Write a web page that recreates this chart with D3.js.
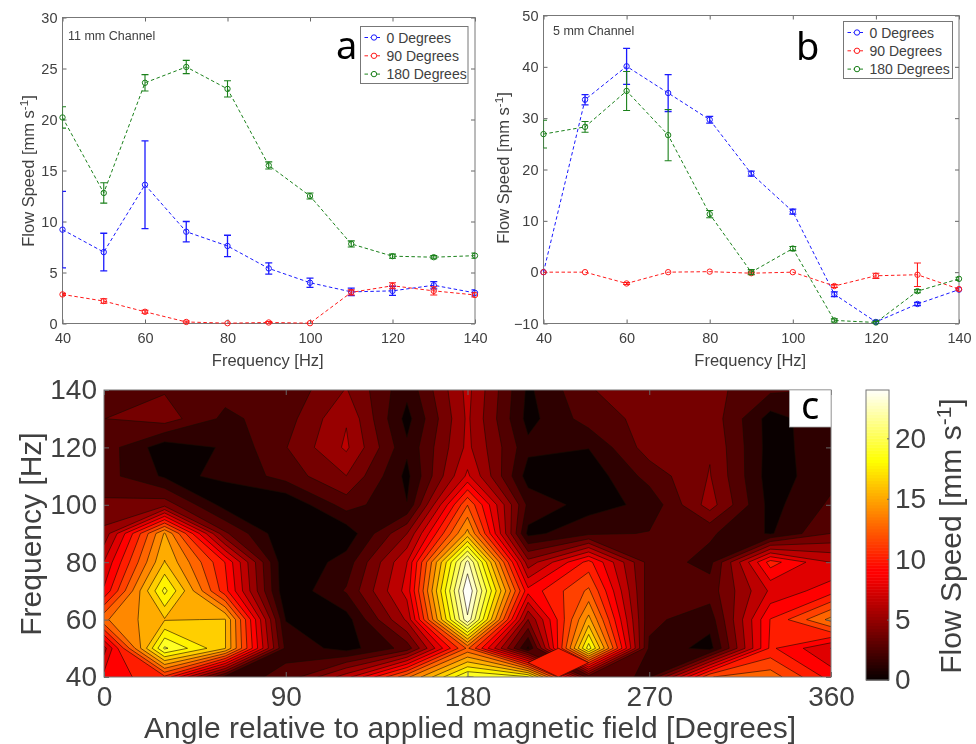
<!DOCTYPE html>
<html>
<head>
<meta charset="utf-8">
<script src="https://d3js.org/d3.v7.min.js"></script>
<style>
  body { margin: 0; background: #fff; }
  svg { display: block; font-family: "Liberation Sans", sans-serif; filter: blur(0.4px); }
  text { fill: #404040; }
  .axis path { display: none; }
  .axis line { stroke: #666; }
</style>
</head>
<body>
<svg id="chart" width="976" height="744"></svg>
<script>
const freqs = [40, 50, 60, 70, 80, 90, 100, 110, 120, 130, 140];
const seriesNames = ["0 Degrees", "90 Degrees", "180 Degrees"];
const seriesColors = ["#1a1aff", "#ff1a1a", "#1a801a"];

// panel a, 11 mm channel
const a0 = [9.2, 7, 13.6, 9, 7.6, 5.4, 4, 3.1, 3.2, 3.75, 3];
const a0Err = [3.75, 1.85, 4.3, 1, 1.05, 0.55, 0.45, 0.37, 0.45, 0.35, 0.3];
const a90 = [2.85, 2.2, 1.15, 0.15, 0.03, 0.1, 0.03, 3.05, 3.7, 3.2, 2.8];
const a90Err = [0.1, 0.22, 0.15, 0.1, 0, 0.1, 0, 0.25, 0.3, 0.4, 0.2];
const a180 = [20.2, 12.8, 23.6, 25.15, 23, 15.5, 12.5, 7.8, 6.6, 6.5, 6.65];
const a180Err = [1.05, 1, 0.8, 0.65, 0.8, 0.35, 0.3, 0.3, 0.2, 0.15, 0.25];

// panel b, 5 mm channel
const b0 = [0, 33.6, 40.1, 34.9, 29.7, 19.2, 11.8, -4.3, -9.7, -6.2, -3.4];
const b0Err = [0, 1, 3.5, 3.6, 0.65, 0.5, 0.5, 0.45, 0.3, 0.3, 0.2];
const b90 = [0, 0, -2.2, 0, 0.1, -0.2, 0, -2.7, -0.7, -0.5, -3.3];
const b90Err = [0, 0, 0.2, 0, 0, 0.2, 0, 0.3, 0.5, 2.3, 0.2];
const b180 = [26.9, 28.3, 35.3, 26.7, 11.3, 0, 4.6, -9.4, -9.8, -3.7, -1.3];
const b180Err = [2.7, 1.05, 3.8, 5, 0.7, 0.5, 0.4, 0.3, 0.2, 0.3, 0.3];

// panel c, one row per frequency (40 first), one column per angle
const angles = [0, 30, 60, 90, 120, 150, 180, 210, 240, 270, 300, 330, 360];
const speedRows = [
  [9.2, 11, 2, 2.8, 7, 13.5, 20.2, 19, 3, 2.35, 12.5, 13.3, 9.5],
  [7, 20.3, 16.4, 2.2, 0.7, 3, 12.8, 1, 19.5, 2.3, 0.7, 10.3, 7.5],
  [13.6, 16.2, 16.4, 1.2, 0.7, 6.5, 23.6, 5, 15.5, 2.8, 1.8, 10.1, 14.2],
  [9, 19.2, 10.5, 0.15, 2.65, 8, 25.1, 9.2, 12.8, 3, 3.1, 7.75, 9.5],
  [7.6, 16.4, 10, 0.03, 1.8, 7.5, 23, 5.5, 10.5, 3.2, 2.1, 10.6, 7.5],
  [5.4, 15.2, 4, 0.1, 0.4, 5, 15.5, 0.86, 2.2, 2.6, 2.7, 1.1, 3.8],
  [4, 4.5, 0.7, 0.03, 3.1, 1.3, 12.5, 2.2, 0.7, 1.6, 5.6, 0.8, 2.75],
  [3.05, 1.05, 1.4, 3.05, 5, 0.9, 7.8, 0.6, 0.4, 3, 5.1, 0.6, 2.1],
  [3.2, 0.5, 1.4, 3.7, 6.5, 1.5, 6.6, 1.6, 1.3, 4.4, 4.9, 0.7, 2.1],
  [3.75, 4.4, 2.2, 3.2, 6.17, 0.8, 6.5, 0.8, 3.1, 4.2, 4.6, 0.7, 2.2],
  [3, 3.65, 3, 2.8, 5.1, 1.6, 6.65, 1, 3.65, 4.7, 4.2, 2.75, 2.5]
];
// 20 contour steps up to the peak
const levelStep = 1.255;
const levels = d3.range(1, 21).map(i => i * levelStep);

const svg = d3.select("#chart");

function addYLabel(g, x, y, size, base) {
  const t = g.append("text")
    .attr("transform", `translate(${x},${y}) rotate(-90)`)
    .attr("text-anchor", "middle")
    .style("font-size", size + "px")
    .text(base);
  t.append("tspan").attr("dy", -size * 0.35).style("font-size", size * 0.7 + "px").text("-1");
  t.append("tspan").attr("dy", size * 0.35).text("]");
}

function drawBox(g, x, y, ticksX, ticksY, tickLen, fontSize, padX, padY) {
  const [x0, x1] = x.range();
  const [y1, y0] = y.range();
  g.append("g").attr("class", "axis").attr("transform", `translate(0,${y1})`)
    .call(d3.axisBottom(x).tickValues(ticksX).tickSize(-tickLen).tickPadding(padX))
    .call(s => s.selectAll("text").style("font-size", fontSize + "px"));
  g.append("g").attr("class", "axis").attr("transform", `translate(0,${y0})`)
    .call(d3.axisTop(x).tickValues(ticksX).tickSize(-tickLen).tickFormat(""));
  g.append("g").attr("class", "axis").attr("transform", `translate(${x0},0)`)
    .call(d3.axisLeft(y).tickValues(ticksY).tickSize(-tickLen).tickPadding(padY))
    .call(s => s.selectAll("text").style("font-size", fontSize + "px"));
  g.append("g").attr("class", "axis").attr("transform", `translate(${x1},0)`)
    .call(d3.axisRight(y).tickValues(ticksY).tickSize(-tickLen).tickFormat(""));
  g.selectAll(".axis text").attr("font-family", null).style("font-family", "Liberation Sans");
  g.append("rect").attr("x", x0).attr("y", y0).attr("width", x1 - x0).attr("height", y1 - y0)
    .attr("fill", "none").attr("stroke", "#777").attr("stroke-width", 1);
}

function linePanel(opts) {
  const g = svg.append("g");
  const x = d3.scaleLinear().domain([40, 140]).range([opts.left, opts.right]);
  const y = d3.scaleLinear().domain(opts.yDomain).range([opts.bottom, opts.top]);
  const clipId = "clip-" + opts.letter;
  g.append("clipPath").attr("id", clipId).append("rect")
    .attr("x", opts.left).attr("y", opts.top)
    .attr("width", opts.right - opts.left).attr("height", opts.bottom - opts.top);

  drawBox(g, x, y, d3.range(40, 141, 20), opts.yTicks, 4, 14.5, 9, 5);

  const line = d3.line().x((d, i) => x(freqs[i])).y(d => y(d));
  opts.series.forEach((s, k) => {
    const color = seriesColors[k];
    g.append("path").datum(s.values).attr("d", line).attr("fill", "none")
      .attr("stroke", color).attr("stroke-width", 1).attr("stroke-dasharray", "3.5,2.5");
    const bars = g.append("g").attr("clip-path", `url(#${clipId})`)
      .attr("stroke", color).attr("stroke-width", s.values === opts.series[0].values ? 1.3 : 1.1);
    s.values.forEach((v, i) => {
      const e = s.err[i];
      if (!e) return;
      const px = x(freqs[i]);
      bars.append("line").attr("x1", px).attr("x2", px).attr("y1", y(v - e)).attr("y2", y(v + e));
      [v - e, v + e].forEach(c => {
        bars.append("line").attr("x1", px - 3.5).attr("x2", px + 3.5).attr("y1", y(c)).attr("y2", y(c));
      });
    });
    g.selectAll(null).data(s.values).enter().append("circle")
      .attr("cx", (d, i) => x(freqs[i])).attr("cy", d => y(d)).attr("r", 2.7)
      .attr("fill", "none").attr("stroke", color).attr("stroke-width", 1);
  });

  g.append("text").attr("x", (opts.left + opts.right) / 2 - 1).attr("y", 366)
    .attr("text-anchor", "middle").style("font-size", "16.5px").text("Frequency [Hz]");
  addYLabel(g, opts.yLabelX, opts.yLabelY, 16.5, "Flow Speed [mm s");

  g.append("text").attr("x", opts.noteX).attr("y", opts.noteY).style("font-size", "12.5px").text(opts.note);
  g.append("text").attr("x", opts.letterX).attr("y", opts.letterY)
    .style("font-family", "Noto Sans").style("font-size", "38px").style("fill", "#000").text(opts.letter);

  const lg = g.append("g").attr("transform", `translate(${opts.legendX},${opts.legendY})`);
  lg.append("rect").attr("width", opts.legendW).attr("height", 57)
    .attr("fill", "#fff").attr("stroke", "#777").attr("stroke-width", 1);
  seriesNames.forEach((name, k) => {
    const ly = 11 + k * 18.3;
    lg.append("line").attr("x1", 4).attr("x2", 22).attr("y1", ly).attr("y2", ly)
      .attr("stroke", seriesColors[k]).attr("stroke-dasharray", "3.5,2.5");
    lg.append("circle").attr("cx", 13.5).attr("cy", ly).attr("r", 2.7)
      .attr("fill", "#fff").attr("stroke", seriesColors[k]);
    lg.append("text").attr("x", 26).attr("y", ly + 5).style("font-size", "14px").text(name);
  });
}

linePanel({
  letter: "a", left: 62.5, right: 475, top: 17.5, bottom: 323.5,
  yDomain: [0, 30], yTicks: d3.range(0, 31, 5),
  series: [{ values: a0, err: a0Err }, { values: a90, err: a90Err }, { values: a180, err: a180Err }],
  yLabelX: 34, yLabelY: 171, note: "11 mm Channel", noteX: 68, noteY: 40,
  letterX: 336, letterY: 59, legendX: 360.5, legendY: 26.5, legendW: 107.5
});

linePanel({
  letter: "b", left: 543.5, right: 959, top: 15.5, bottom: 323.5,
  yDomain: [-10, 50], yTicks: d3.range(-10, 51, 10),
  series: [{ values: b0, err: b0Err }, { values: b90, err: b90Err }, { values: b180, err: b180Err }],
  yLabelX: 509, yLabelY: 168, note: "5 mm Channel", noteX: 553, noteY: 35,
  letterX: 796, letterY: 60, legendX: 843.5, legendY: 21.5, legendW: 109
});

// hot colormap, same shape as the matlab one
function hot(v) {
  const t = v / 24;
  const r = Math.min(1, 0.04 + t / 0.375);
  const gr = Math.max(0, Math.min(1, (t - 0.375) / 0.375));
  const b = Math.max(0, Math.min(1, (t - 0.75) / 0.25));
  return d3.rgb(r * 255, gr * 255, b * 255).formatHex();
}

// panel c
const plotC = { left: 104, right: 831, top: 390, bottom: 677 };
const gc = svg.append("g");
const xAngle = d3.scaleLinear().domain([0, 360]).range([plotC.left, plotC.right]);
const yFreq = d3.scaleLinear().domain([40, 140]).range([plotC.bottom, plotC.top]);

gc.append("clipPath").attr("id", "clip-c").append("rect")
  .attr("x", plotC.left).attr("y", plotC.top)
  .attr("width", plotC.right - plotC.left).attr("height", plotC.bottom - plotC.top);

// d3.contours puts grid nodes at i + 0.5
const project = d3.geoTransform({
  point(cx, cy) {
    this.stream.point(xAngle((cx - 0.5) * 30), yFreq(40 + (cy - 0.5) * 10));
  }
});
const contourPath = d3.geoPath(project);
const contours = d3.contours()
  .size([angles.length, freqs.length])
  .thresholds(levels)(speedRows.flat());

const field = gc.append("g").attr("clip-path", "url(#clip-c)");
field.append("rect").attr("x", plotC.left).attr("y", plotC.top)
  .attr("width", plotC.right - plotC.left).attr("height", plotC.bottom - plotC.top)
  .attr("fill", hot(0));
field.selectAll("path").data(contours).enter().append("path")
  .attr("d", contourPath)
  .attr("fill", d => hot(d.value))
  .attr("stroke", "#1a0a00").attr("stroke-width", 0.7).attr("stroke-opacity", 0.85);

// strong saddles come out as a flat diamond in the original
for (let r = 0; r < freqs.length - 1; r++) {
  for (let c = 0; c < angles.length - 1; c++) {
    const [p, q, u, w] = [speedRows[r][c], speedRows[r][c + 1], speedRows[r + 1][c], speedRows[r + 1][c + 1]];
    if (Math.min(p, w) - Math.max(q, u) < 10 && Math.min(q, u) - Math.max(p, w) < 10) continue;
    const mid = (p + q + u + w) / 4;
    const a0 = angles[c], a1 = angles[c + 1], f0 = freqs[r], f1 = freqs[r + 1];
    const corners = [[(a0 + a1) / 2, f0], [a1, (f0 + f1) / 2], [(a0 + a1) / 2, f1], [a0, (f0 + f1) / 2]];
    field.append("path")
      .attr("d", d3.line().x(d => xAngle(d[0])).y(d => yFreq(d[1])).curve(d3.curveLinearClosed)(corners))
      .attr("fill", hot(Math.floor(mid / levelStep) * levelStep))
      .attr("stroke", "#1a0a00").attr("stroke-width", 0.7).attr("stroke-opacity", 0.85);
  }
}

drawBox(gc, xAngle, yFreq, [0, 90, 180, 270, 360], d3.range(40, 141, 20), 5, 28, 9, 7);

gc.append("text").attr("x", 470).attr("y", 738).attr("text-anchor", "middle")
  .style("font-size", "30px").text("Angle relative to applied magnetic field [Degrees]");
gc.append("text").attr("transform", "translate(41,534) rotate(-90)").attr("text-anchor", "middle")
  .style("font-size", "30px").text("Frequency [Hz]");

// white box with the panel letter
gc.append("rect").attr("x", 789.5).attr("y", 390).attr("width", 41.5).attr("height", 37)
  .attr("fill", "#fff").attr("stroke", "#aaa").attr("stroke-width", 0.8);
gc.append("text").attr("x", 801).attr("y", 418.5)
  .style("font-family", "Noto Sans").style("font-size", "38px").style("fill", "#000").text("c");

// colour bar
const barTicks = [0, 5, 10, 15, 20];
const barX = 866, barW = 23, barTop = 390, barBottom = 680;
const yBar = d3.scaleLinear().domain([0, 24]).range([barBottom, barTop]);
const gb = svg.append("g");
const barSteps = d3.range(0, 24, 0.25);
gb.selectAll("rect").data(barSteps).enter().append("rect")
  .attr("x", barX).attr("width", barW)
  .attr("y", d => yBar(d + 0.25)).attr("height", yBar(0) - yBar(0.25) + 0.5)
  .attr("fill", d => hot(d));
gb.append("rect").attr("x", barX).attr("y", barTop).attr("width", barW).attr("height", barBottom - barTop)
  .attr("fill", "none").attr("stroke", "#777").attr("stroke-width", 1);
gb.append("g").attr("class", "axis").attr("transform", `translate(${barX + barW},0)`)
  .call(d3.axisRight(yBar).tickValues(barTicks).tickSize(-2).tickPadding(6))
  .call(s => s.selectAll("text").style("font-size", "28px").attr("font-family", null).style("font-family", "Liberation Sans"));
addYLabel(gb, 961, 536, 30, "Flow Speed [mm s");
</script>
</body>
</html>
